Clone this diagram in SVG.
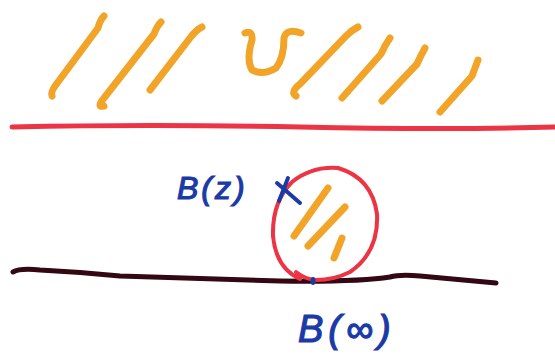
<svg xmlns="http://www.w3.org/2000/svg" width="555" height="358" viewBox="0 0 555 358">
<style>
.o{fill:none;stroke:#f2a428;stroke-width:7;stroke-linecap:round;stroke-linejoin:round}
.r{fill:none;stroke:#ec3444;stroke-linecap:round}
.b{fill:none;stroke:#1b3aa8;stroke-width:4;stroke-linecap:round}
.t{font-family:"Liberation Sans",sans-serif;font-style:italic;fill:#1b3aa8;stroke:#1b3aa8;stroke-width:1.2}
</style>
<rect width="555" height="358" fill="#fff"/>
<g id="hatching">
<path class="o" d="M104 16 Q100 20 98 28 L58 82 Q50 92 52 96"/>
<path class="o" d="M161 22 Q157 26 154 34 L104 98 Q96 108 104 106"/>
<path class="o" d="M202 27 Q196 30 190 38 L150 90"/>
<path class="o" d="M245 33 Q253 30 252 40 Q246 60 252 70 Q263 76 276 68 Q284 58 284 38 Q286 28 301 33"/>
<path class="o" d="M358 27 Q352 30 346 36 L300 84 Q290 92 296 96"/>
<path class="o" d="M390 38 Q385 45 381 54 L342 98"/>
<path class="o" d="M425 48 Q421 55 417 64 L382 101"/>
<path class="o" d="M478 60 L472 76 L440 112"/>
</g>
<g id="surface">
<path class="r" stroke-width="5" d="M12 127 Q150 124 300 127 T555 127"/>
</g>
<g id="ground">
<path fill="none" stroke="#330812" stroke-width="5" stroke-linecap="round" d="M13 272 Q20 268 40 270 Q80 272 120 276 L280 281 Q360 282 390 277 Q400 274 420 276 L496 283"/>
</g>
<g id="ball">
<path class="r" stroke-width="4" d="M300 279 Q276 268 273 236 Q272 202 292 182 Q312 166 338 168 Q372 178 377 214 Q379 252 350 272 Q334 280 316 280 Q304 279 296 272"/>
<path class="o" d="M328 188 L294 236"/>
<path class="o" d="M345 207 L308 246"/>
<path class="o" d="M342 238 L334 258"/>
</g>
<g id="labels">
<text class="t" x="177" y="199" font-size="32" letter-spacing="3">B(z)</text>
<path class="b" d="M277 183 L300 203 M288 178 L279 201"/>
<text class="t" x="298" y="342" font-size="38" letter-spacing="5">B(∞)</text>
<ellipse cx="313" cy="281" rx="2.5" ry="4" fill="#1b3aa8"/>
</g>
</svg>
